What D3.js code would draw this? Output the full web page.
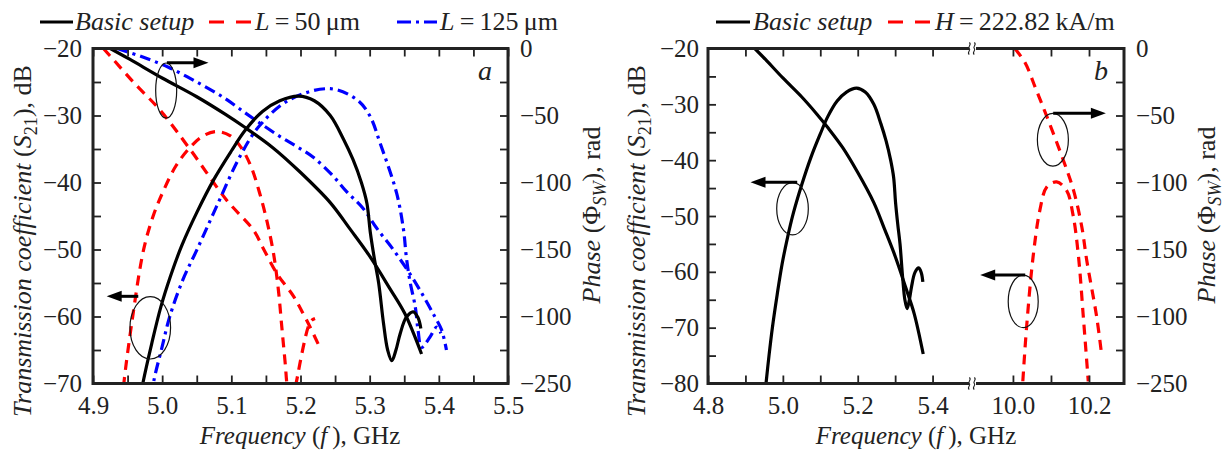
<!DOCTYPE html>
<html>
<head>
<meta charset="utf-8">
<script src="https://cdn.jsdelivr.net/npm/d3@7"></script>
<style>
    body { margin: 0; background: #fff; }
</style>
</head>
<body>
<script>
// frequency GHz, S21 dB, phase rad
const basicS21 = [[4.955,-80],[4.963,-75],[4.972,-70],[4.985,-64],[4.998,-58.6],[5.012,-54],[5.028,-49.5],[5.05,-44.5],
    [5.075,-39.5],[5.1,-35.3],[5.12,-32.2],[5.145,-29.4],[5.17,-27.8],[5.197,-27.1],[5.22,-27.8],[5.243,-30],
    [5.262,-33.5],[5.276,-36.6],[5.288,-40],[5.296,-43.1],[5.301,-47.5],[5.307,-51.5],[5.313,-55],[5.32,-61],
    [5.326,-65],[5.332,-66.6],[5.338,-65],[5.344,-62.6],[5.353,-60.1],[5.363,-59.3],[5.37,-60.2],[5.374,-61.8]];
const basicPhase = [[4.925,0],[4.953,-8],[5.0,-22],[5.05,-36],[5.091,-49],[5.12,-59],[5.16,-74],[5.199,-92],
    [5.243,-115],[5.272,-135],[5.3,-155],[5.329,-179],[5.351,-198],[5.375,-228]];

const l50S21 = [[4.942,-73],[4.945,-69.6],[4.956,-61],[4.973,-50.1],[4.987,-45],[5.002,-41.2],[5.02,-37.5],[5.04,-34.8],
    [5.06,-33],[5.079,-32.4],[5.098,-33],[5.113,-34.6],[5.128,-37.5],[5.141,-41.6],[5.152,-46],[5.161,-50.6],
    [5.168,-56],[5.173,-61.6],[5.178,-67.1],[5.181,-70.5],[5.187,-73],[5.194,-69.8],[5.199,-67.1],[5.206,-63.6],
    [5.211,-61.6],[5.216,-60.6],[5.221,-60.3]];
const l50Phase = [[4.915,0],[4.929,-8],[4.96,-26],[4.997,-46],[5.04,-75],[5.093,-113],[5.132,-135.5],[5.146,-149],
    [5.166,-168],[5.19,-185],[5.204,-198],[5.214,-208],[5.226,-221]];

const l125S21 = [[4.985,-72],[4.988,-69.6],[5.0,-64.5],[5.011,-60],[5.03,-54.5],[5.05,-50.1],[5.079,-43.5],[5.113,-36],
    [5.141,-31.5],[5.185,-27.6],[5.243,-26],[5.281,-27.6],[5.3,-30],[5.315,-34.1],[5.339,-41.6],[5.349,-47.1],
    [5.353,-51.1],[5.358,-54.6],[5.366,-58.6],[5.37,-62.1],[5.375,-64.6],[5.387,-63.1],[5.397,-61.6],[5.403,-62.5]];
const l125Phase = [[4.935,0],[4.97,-6],[5.009,-14],[5.05,-25],[5.09,-37],[5.12,-48],[5.145,-57],[5.17,-65.6],
    [5.194,-73],[5.218,-81],[5.245,-94],[5.267,-107],[5.29,-119],[5.31,-134],[5.334,-150],[5.358,-168],
    [5.378,-185],[5.394,-200],[5.404,-210],[5.411,-225]];

const hS21 = [[10.026,-79.6],[10.036,-69.8],[10.053,-57.3],[10.071,-48.9],[10.089,-44.8],[10.115,-43.9],
    [10.141,-45.4],[10.158,-49.8],[10.172,-57],[10.185,-68],[10.198,-79.6]];
const hPhase = [[10.005,0],[10.032,-10.7],[10.06,-30],[10.089,-50.7],[10.132,-83],[10.159,-105.5],[10.181,-133],
    [10.194,-158],[10.22,-200],[10.233,-228]];

// ticks
const xTicksA = [4.9,5.0,5.1,5.2,5.3,5.4,5.5];
const xLabelsA = ["4.9","5.0","5.1","5.2","5.3","5.4","5.5"];
const xMinorA = [4.95,5.05,5.15,5.25,5.35,5.45];
const yTicksA = [-20,-30,-40,-50,-60,-70];
const yLabelsA = ["\u221220","\u221230","\u221240","\u221250","\u221260","\u221270"];
const yMinorA = [-25,-35,-45,-55,-65];
const pTicks = [0,-50,-100,-150,-200,-250];
const pLabels = ["0","\u221250","\u2212100","\u2212150","\u2212100","\u2212250"];
const pMinor = [-25,-75,-125,-175,-225];

const xTicksB1 = [4.8,5.0,5.2,5.4];
const xLabelsB1 = ["4.8","5.0","5.2","5.4"];
const xMinorB1 = [4.9,5.1,5.3];
const xTicksB2 = [10.0,10.2];
const xLabelsB2 = ["10.0","10.2"];
const xMinorB2 = [10.1];
const yTicksB = [-20,-30,-40,-50,-60,-70,-80];
const yLabelsB = ["\u221220","\u221230","\u221240","\u221250","\u221260","\u221270","\u221280"];
const yMinorB = [-25,-35,-45,-55,-65,-75];

const SERIF = '"Liberation Serif", "Times New Roman", Times, "Nimbus Roman", "Nimbus Roman No9 L", FreeSerif, "DejaVu Serif", "Noto Serif", serif';
const INK = '#222';

const svg = d3.select('body').append('svg')
    .attr('width', 1226)
    .attr('height', 450);

const top0 = 48.5, bot0 = 383.5;

// scales
const xA = d3.scaleLinear().domain([4.9, 5.5]).range([93, 508]);
const yA = d3.scaleLinear().domain([-70, -20]).range([bot0, top0]);
const pA = d3.scaleLinear().domain([-250, 0]).range([bot0, top0]);

const xB1 = d3.scaleLinear().domain([4.8, 5.5]).range([708, 970]);
const xB2 = d3.scaleLinear().domain([9.895, 10.292]).range([973, 1124]);
const yB = d3.scaleLinear().domain([-80, -20]).range([bot0, top0]);
const pB = d3.scaleLinear().domain([-250, 0]).range([bot0, top0]);

function axis(gen, values, labels, tx, ty, pad){
    let a = gen.tickValues(values)
        .tickSizeInner(-8)
        .tickSizeOuter(0)
        .tickPadding(pad)
        .tickFormat(labels ? (d, i) => labels[i] : '');
    let g = svg.append('g')
        .attr('transform', 'translate(' + tx + ',' + ty + ')')
        .call(a);
    g.attr('font-family', null).attr('font-size', null);
    g.select('.domain').remove();
    g.selectAll('line').attr('stroke', INK).attr('stroke-width', 1.8);
    g.selectAll('text')
        .style('font-family', SERIF)
        .attr('font-size', 25)
        .attr('fill', INK);
    return g;
}

// clip regions
const defs = svg.append('defs');
function clip(id, x0, x1){
    defs.append('clipPath').attr('id', id)
        .append('rect').attr('x', x0).attr('y', top0).attr('width', x1 - x0).attr('height', bot0 - top0);
}
clip('clipA', 93, 508);
clip('clipB1', 708, 970);
clip('clipB2', 973, 1124);

const styles = {
    black: {stroke: '#000', dash: null},
    red:   {stroke: '#ff0000', dash: '10,7'},
    blue:  {stroke: '#0000ff', dash: '11,5,3,5'}
};

function curve(data, xs, ys, st, clipId){
    let line = d3.line()
        .x(d => xs(d[0]))
        .y(d => ys(d[1]))
        .curve(d3.curveCatmullRom.alpha(0.5));
    svg.append('path')
        .datum(data)
        .attr('clip-path', 'url(#' + clipId + ')')
        .attr('d', line)
        .attr('fill', 'none')
        .attr('stroke', st.stroke)
        .attr('stroke-width', 3.2)
        .attr('stroke-dasharray', st.dash)
        .attr('stroke-linejoin', 'round');
}

// ---------- panel a ----------
curve(l50S21, xA, yA, styles.red, 'clipA');
curve(l50Phase, xA, pA, styles.red, 'clipA');
curve(l125S21, xA, yA, styles.blue, 'clipA');
curve(l125Phase, xA, pA, styles.blue, 'clipA');
curve(basicS21, xA, yA, styles.black, 'clipA');
curve(basicPhase, xA, pA, styles.black, 'clipA');

axis(d3.axisBottom(xA), xTicksA, xLabelsA, 0, bot0, 13);
axis(d3.axisBottom(xA), xMinorA, null, 0, bot0, 13);
axis(d3.axisTop(xA), xTicksA.concat(xMinorA), null, 0, top0, 0);
axis(d3.axisLeft(yA), yTicksA, yLabelsA, 93, 0, 11);
axis(d3.axisLeft(yA), yMinorA, null, 93, 0, 11);
axis(d3.axisRight(pA), pTicks, pLabels, 508, 0, 12);
axis(d3.axisRight(pA), pMinor, null, 508, 0, 12);

svg.append('rect')
    .attr('x', 93).attr('y', top0).attr('width', 508 - 93).attr('height', bot0 - top0)
    .attr('fill', 'none').attr('stroke', INK).attr('stroke-width', 3);

// ---------- panel b ----------
curve(basicS21, xB1, yB, styles.black, 'clipB1');
curve(basicPhase, xB1, pB, styles.black, 'clipB1');
curve(hS21, xB2, yB, styles.red, 'clipB2');
curve(hPhase, xB2, pB, styles.red, 'clipB2');

axis(d3.axisBottom(xB1), xTicksB1, xLabelsB1, 0, bot0, 13);
axis(d3.axisBottom(xB1), xMinorB1, null, 0, bot0, 13);
axis(d3.axisBottom(xB2), xTicksB2, xLabelsB2, 0, bot0, 13);
axis(d3.axisBottom(xB2), xMinorB2, null, 0, bot0, 13);
axis(d3.axisTop(xB1), xTicksB1.concat(xMinorB1).filter(v => v > 4.8), null, 0, top0, 0);
axis(d3.axisTop(xB2), xTicksB2.concat(xMinorB2), null, 0, top0, 0);
axis(d3.axisLeft(yB), yTicksB, yLabelsB, 708, 0, 9);
axis(d3.axisLeft(yB), yMinorB, null, 708, 0, 9);
axis(d3.axisRight(pB), pTicks, pLabels, 1124, 0, 12);
axis(d3.axisRight(pB), pMinor, null, 1124, 0, 12);

// frame of b with the axis break
const frameB = svg.append('g').attr('stroke', INK).attr('stroke-width', 3).attr('fill', 'none');
frameB.append('path').attr('d',
    'M969,' + top0 + 'H708V' + bot0 + 'H969' +
    'M976,' + top0 + 'H1124V' + bot0 + 'H976');
[top0, bot0].forEach(yy => {
    [970.3, 975.3].forEach(xx => {
        frameB.append('path')
            .attr('stroke-width', 1.1)
            .attr('d', 'M' + (xx - 1) + ',' + (yy - 6) + 'c3,2 -2,4 0,6c2,2 -3,4 0,6');
    });
});

// ---------- annotations: ellipse + arrow (center in data units) ----------
const notes = [
    {x: xA(5.0058), y: yA(-26.27), rx: 10.5, ry: 27.5, a0: 0.7, a1: 42.3},
    {x: xA(4.9828), y: yA(-61.69), rx: 20.3, ry: 31.2, a0: -12, a1: -43.6},
    {x: xB1(5.0258), y: yB(-48.7), rx: 15.8, ry: 26.2, a0: 4.7, a1: -42},
    {x: xB2(10.105), y: pB(-68.1), rx: 15.5, ry: 26.3, a0: 0.3, a1: 53},
    {x: xB2(10.027), y: yB(-65.3), rx: 15, ry: 26.2, a0: 2, a1: -43}
];
notes.forEach(n => {
    svg.append('ellipse')
        .attr('cx', n.x).attr('cy', n.y).attr('rx', n.rx).attr('ry', n.ry)
        .attr('fill', 'none').attr('stroke', '#111').attr('stroke-width', 1.2);
    let ay = n.y - n.ry - 0.3;
    let dir = Math.sign(n.a1 - n.a0);
    let tip = n.x + n.a1;
    svg.append('line')
        .attr('x1', n.x + n.a0).attr('y1', ay).attr('x2', tip - dir * 10).attr('y2', ay)
        .attr('stroke', '#000').attr('stroke-width', 3);
    svg.append('path')
        .attr('d', 'M' + tip + ',' + ay + 'l' + (-dir * 15) + ',-5.5v11z')
        .attr('fill', '#000');
});

// ---------- texts ----------
function addText(x, y, rot, parts, size, anchor){
    let t = svg.append('text')
        .attr('transform', 'translate(' + x + ',' + y + ')' + (rot ? ' rotate(' + rot + ')' : ''))
        .style('font-family', SERIF)
        .attr('font-size', size)
        .attr('fill', INK)
        .attr('text-anchor', anchor || 'start');
    parts.forEach(p => {
        let s = t.append('tspan').text(p.t);
        if (p.i) s.attr('font-style', 'italic');
        if (p.small) s.attr('font-size', size * 0.7);
        if (p.dy) s.attr('dy', p.dy);
    });
    return t;
}

const s21Title = [{t: 'Transmission coefficient', i: 1}, {t: ' ('}, {t: 'S', i: 1}, {t: '21', small: 1, dy: 6},
    {t: '), dB', dy: -6}];
const phTitle = [{t: 'Phase', i: 1}, {t: ' (\u03A6'}, {t: 'SW', i: 1, small: 1, dy: 6}, {t: '), rad', dy: -6}];
const fTitle = [{t: 'Frequency', i: 1}, {t: ' ('}, {t: 'f', i: 1}, {t: '\u2009), GHz'}];

title(31, 241, -90, s21Title, 26);
title(600, 215, -90, phTitle, 26);
title(300, 444, 0, fTitle, 25);
title(645, 241, -90, s21Title, 26);
title(1215, 215, -90, phTitle, 26);
title(916, 444, 0, fTitle, 25);
function title(x, y, rot, parts, size){
    addText(x, y, rot, parts, size, 'middle');
}

addText(485, 80, 0, [{t: 'a', i: 1}], 28, 'middle');
addText(1101, 80, 0, [{t: 'b', i: 1}], 28, 'middle');

// ---------- legends ----------
function legendItem(x0, x1, y, st, tx, parts){
    svg.append('line')
        .attr('x1', x0).attr('x2', x1).attr('y1', y).attr('y2', y)
        .attr('stroke', st.stroke).attr('stroke-width', 3)
        .attr('stroke-dasharray', st.legendDash || null);
    addText(tx, y + 8, 0, parts, 26, 'start');
}
const legBlack = styles.black;
const legRed = {stroke: '#ff0000', legendDash: '15,12'};
const legBlue = {stroke: '#0000ff', legendDash: '14,5,3,5'};

legendItem(40, 73, 22, legBlack, 75, [{t: 'Basic setup', i: 1}]);
legendItem(209, 251, 22, legRed, 255, [{t: 'L', i: 1}, {t: '\u2009=\u200950\u2009\u03BCm'}]);
legendItem(397, 437, 22, legBlue, 440, [{t: 'L', i: 1}, {t: '\u2009=\u2009125\u2009\u03BCm'}]);

legendItem(716, 750, 22, legBlack, 753, [{t: 'Basic setup', i: 1}]);
legendItem(888, 933, 22, legRed, 935, [{t: 'H', i: 1}, {t: '\u2009=\u2009222.82\u2009kA/m'}]);
</script>
</body>
</html>
